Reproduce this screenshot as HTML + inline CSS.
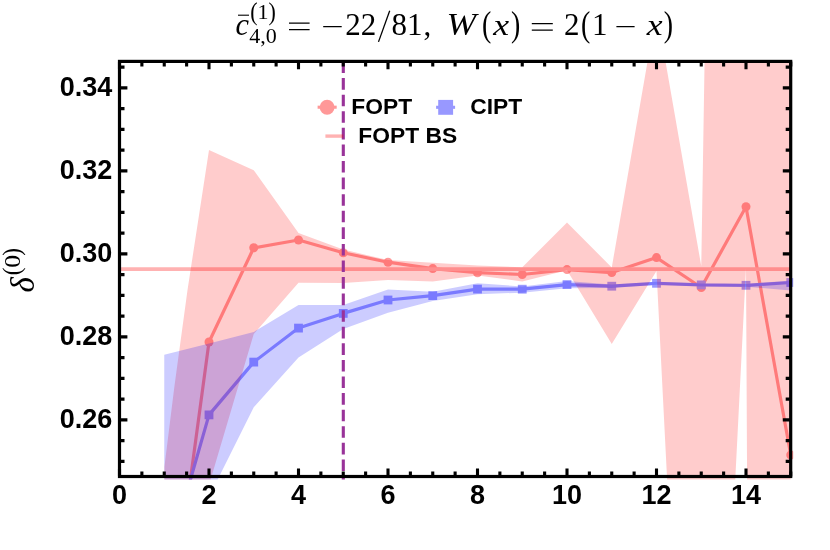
<!DOCTYPE html>
<html><head><meta charset="utf-8"><title>plot</title>
<style>html,body{margin:0;padding:0;background:#fff}svg{display:block;will-change:transform}text{font-family:"Liberation Sans",sans-serif}.s{font-family:"Liberation Serif",serif}</style></head><body>
<svg width="830" height="550" viewBox="0 0 830 550">
<rect width="830" height="550" fill="#fff"/>
<defs><clipPath id="cp"><rect x="119.5" y="60.0" width="671.2" height="419.6"/></clipPath>
<clipPath id="cl"><rect x="119.5" y="60.0" width="673.7" height="419.6"/></clipPath></defs>
<g clip-path="url(#cl)">
<g opacity="0.4">
<polyline points="164.25,673.00 209.00,342.00 253.75,247.80 298.50,240.00 343.25,252.70 388.00,262.20 432.75,268.60 477.50,272.70 522.25,274.50 567.00,269.60 611.75,272.60 656.50,257.60 701.25,287.50 746.00,206.80 790.75,455.00" fill="none" stroke="rgb(255,0,0)" stroke-width="3.2" stroke-linejoin="round"/>
<circle cx="164.25" cy="673.00" r="4.5" fill="rgb(255,0,0)"/>
<circle cx="209.00" cy="342.00" r="4.5" fill="rgb(255,0,0)"/>
<circle cx="253.75" cy="247.80" r="4.5" fill="rgb(255,0,0)"/>
<circle cx="298.50" cy="240.00" r="4.5" fill="rgb(255,0,0)"/>
<circle cx="343.25" cy="252.70" r="4.5" fill="rgb(255,0,0)"/>
<circle cx="388.00" cy="262.20" r="4.5" fill="rgb(255,0,0)"/>
<circle cx="432.75" cy="268.60" r="4.5" fill="rgb(255,0,0)"/>
<circle cx="477.50" cy="272.70" r="4.5" fill="rgb(255,0,0)"/>
<circle cx="522.25" cy="274.50" r="4.5" fill="rgb(255,0,0)"/>
<circle cx="567.00" cy="269.60" r="4.5" fill="rgb(255,0,0)"/>
<circle cx="611.75" cy="272.60" r="4.5" fill="rgb(255,0,0)"/>
<circle cx="656.50" cy="257.60" r="4.5" fill="rgb(255,0,0)"/>
<circle cx="701.25" cy="287.50" r="4.5" fill="rgb(255,0,0)"/>
<circle cx="746.00" cy="206.80" r="4.5" fill="rgb(255,0,0)"/>
<circle cx="790.75" cy="455.00" r="4.5" fill="rgb(255,0,0)"/>
</g>
<polyline points="164.25,571.00 209.00,414.90 253.75,362.10 298.50,328.10 343.25,313.40 388.00,300.00 432.75,295.60 477.50,289.10 522.25,289.20 567.00,284.60 611.75,286.20 656.50,283.30 701.25,284.90 746.00,285.30 790.75,282.50" fill="none" stroke="rgb(153,153,255)" stroke-width="3.2" stroke-linejoin="round"/>
<rect x="159.85" y="566.60" width="8.8" height="8.8" fill="rgb(153,153,255)"/>
<rect x="204.60" y="410.50" width="8.8" height="8.8" fill="rgb(153,153,255)"/>
<rect x="249.35" y="357.70" width="8.8" height="8.8" fill="rgb(153,153,255)"/>
<rect x="294.10" y="323.70" width="8.8" height="8.8" fill="rgb(153,153,255)"/>
<rect x="338.85" y="309.00" width="8.8" height="8.8" fill="rgb(153,153,255)"/>
<rect x="383.60" y="295.60" width="8.8" height="8.8" fill="rgb(153,153,255)"/>
<rect x="428.35" y="291.20" width="8.8" height="8.8" fill="rgb(153,153,255)"/>
<rect x="473.10" y="284.70" width="8.8" height="8.8" fill="rgb(153,153,255)"/>
<rect x="517.85" y="284.80" width="8.8" height="8.8" fill="rgb(153,153,255)"/>
<rect x="562.60" y="280.20" width="8.8" height="8.8" fill="rgb(153,153,255)"/>
<rect x="607.35" y="281.80" width="8.8" height="8.8" fill="rgb(153,153,255)"/>
<rect x="652.10" y="278.90" width="8.8" height="8.8" fill="rgb(153,153,255)"/>
<rect x="696.85" y="280.50" width="8.8" height="8.8" fill="rgb(153,153,255)"/>
<rect x="741.60" y="280.90" width="8.8" height="8.8" fill="rgb(153,153,255)"/>
<rect x="786.35" y="278.10" width="8.8" height="8.8" fill="rgb(153,153,255)"/>
</g>
<g clip-path="url(#cp)">
<line x1="119.5" x2="790.7" y1="269.05" y2="269.05" stroke="rgb(255,178,178)" stroke-width="3.7"/>
<polygon points="164.40,467.00 174.20,388.00 187.50,290.00 209.00,150.00 253.75,170.20 298.50,233.00 343.25,249.60 388.00,260.00 432.75,262.70 477.50,265.50 522.25,267.30 567.00,222.50 611.75,267.50 656.50,10.00 701.25,266.00 746.00,-2500.00 790.75,-2500.00 790.75,9000.00 746.00,268.00 701.25,1150.00 656.50,271.00 611.75,344.00 567.00,270.20 522.25,281.50 477.50,275.50 432.75,281.50 388.00,280.00 343.25,283.00 298.50,282.70 253.75,334.00 209.00,485.00 164.25,800.00" fill="rgb(255,0,0)" fill-opacity="0.2"/>
<polygon points="164.25,354.80 209.00,343.50 253.75,332.00 298.50,305.10 343.25,305.00 388.00,289.50 432.75,291.80 477.50,283.30 522.25,286.40 567.00,280.90 611.75,284.50 656.50,281.80 701.25,283.40 746.00,284.00 790.75,280.60 790.75,290.50 746.00,286.80 701.25,286.40 656.50,284.80 611.75,288.00 567.00,288.20 522.25,292.70 477.50,294.20 432.75,300.90 388.00,312.70 343.25,329.10 298.50,357.50 253.75,407.30 209.00,497.00 164.25,600.00" fill="rgb(0,0,255)" fill-opacity="0.2"/>
</g>
<line x1="343.3" x2="343.3" y1="61.5" y2="479.5" stroke="rgb(153,51,153)" stroke-width="3.1" stroke-dasharray="11.6 4.98"/>
<rect x="119.5" y="61.4" width="671.2" height="415.1" fill="none" stroke="#000" stroke-width="3.2"/>
<path d="M119.50 476.4v-7.9M119.50 61.4v7.9M141.88 476.4v-5.0M141.88 61.4v5.0M164.25 476.4v-5.0M164.25 61.4v5.0M186.62 476.4v-5.0M186.62 61.4v5.0M209.00 476.4v-7.9M209.00 61.4v7.9M231.38 476.4v-5.0M231.38 61.4v5.0M253.75 476.4v-5.0M253.75 61.4v5.0M276.12 476.4v-5.0M276.12 61.4v5.0M298.50 476.4v-7.9M298.50 61.4v7.9M320.88 476.4v-5.0M320.88 61.4v5.0M343.25 476.4v-5.0M343.25 61.4v5.0M365.62 476.4v-5.0M365.62 61.4v5.0M388.00 476.4v-7.9M388.00 61.4v7.9M410.38 476.4v-5.0M410.38 61.4v5.0M432.75 476.4v-5.0M432.75 61.4v5.0M455.12 476.4v-5.0M455.12 61.4v5.0M477.50 476.4v-7.9M477.50 61.4v7.9M499.88 476.4v-5.0M499.88 61.4v5.0M522.25 476.4v-5.0M522.25 61.4v5.0M544.62 476.4v-5.0M544.62 61.4v5.0M567.00 476.4v-7.9M567.00 61.4v7.9M589.38 476.4v-5.0M589.38 61.4v5.0M611.75 476.4v-5.0M611.75 61.4v5.0M634.12 476.4v-5.0M634.12 61.4v5.0M656.50 476.4v-7.9M656.50 61.4v7.9M678.88 476.4v-5.0M678.88 61.4v5.0M701.25 476.4v-5.0M701.25 61.4v5.0M723.62 476.4v-5.0M723.62 61.4v5.0M746.00 476.4v-7.9M746.00 61.4v7.9M768.38 476.4v-5.0M768.38 61.4v5.0M790.75 476.4v-5.0M790.75 61.4v5.0M119.5 461.40h5.0M790.7 461.40h-5.0M119.5 440.65h5.0M790.7 440.65h-5.0M119.5 419.90h7.9M790.7 419.90h-7.9M119.5 399.15h5.0M790.7 399.15h-5.0M119.5 378.40h5.0M790.7 378.40h-5.0M119.5 357.65h5.0M790.7 357.65h-5.0M119.5 336.90h7.9M790.7 336.90h-7.9M119.5 316.15h5.0M790.7 316.15h-5.0M119.5 295.40h5.0M790.7 295.40h-5.0M119.5 274.65h5.0M790.7 274.65h-5.0M119.5 253.90h7.9M790.7 253.90h-7.9M119.5 233.15h5.0M790.7 233.15h-5.0M119.5 212.40h5.0M790.7 212.40h-5.0M119.5 191.65h5.0M790.7 191.65h-5.0M119.5 170.90h7.9M790.7 170.90h-7.9M119.5 150.15h5.0M790.7 150.15h-5.0M119.5 129.40h5.0M790.7 129.40h-5.0M119.5 108.65h5.0M790.7 108.65h-5.0M119.5 87.90h7.9M790.7 87.90h-7.9M119.5 67.15h5.0M790.7 67.15h-5.0" stroke="#000" stroke-width="3.1" fill="none"/>
<text x="119.50" y="503.6" font-size="27" font-weight="bold" text-anchor="middle">0</text>
<text x="209.00" y="503.6" font-size="27" font-weight="bold" text-anchor="middle">2</text>
<text x="298.50" y="503.6" font-size="27" font-weight="bold" text-anchor="middle">4</text>
<text x="388.00" y="503.6" font-size="27" font-weight="bold" text-anchor="middle">6</text>
<text x="477.50" y="503.6" font-size="27" font-weight="bold" text-anchor="middle">8</text>
<text x="567.00" y="503.6" font-size="27" font-weight="bold" text-anchor="middle">10</text>
<text x="656.50" y="503.6" font-size="27" font-weight="bold" text-anchor="middle">12</text>
<text x="746.00" y="503.6" font-size="27" font-weight="bold" text-anchor="middle">14</text>
<text x="112.3" y="427.80" font-size="27" font-weight="bold" text-anchor="end">0.26</text>
<text x="112.3" y="344.80" font-size="27" font-weight="bold" text-anchor="end">0.28</text>
<text x="112.3" y="261.80" font-size="27" font-weight="bold" text-anchor="end">0.30</text>
<text x="112.3" y="178.80" font-size="27" font-weight="bold" text-anchor="end">0.32</text>
<text x="112.3" y="95.80" font-size="27" font-weight="bold" text-anchor="end">0.34</text>
<g opacity="0.4"><line x1="317.6" x2="336.7" y1="107.2" y2="107.2" stroke="rgb(255,0,0)" stroke-width="3.1"/><circle cx="327.1" cy="107.2" r="7.45" fill="rgb(255,0,0)"/></g>
<text x="351.3" y="113.8" font-size="22.8" font-weight="bold">FOPT</text>
<g opacity="0.4"><line x1="436.1" x2="455.1" y1="107.3" y2="107.3" stroke="rgb(0,0,255)" stroke-width="3.1"/><rect x="438.2" y="99.9" width="14.9" height="14.9" fill="rgb(0,0,255)"/></g>
<text x="470.2" y="113.8" font-size="22.8" font-weight="bold">CIPT</text>
<line x1="325.4" x2="343.4" y1="136.1" y2="136.1" stroke="rgb(255,0,0)" stroke-opacity="0.3" stroke-width="3.4"/>
<text x="358.3" y="142.8" font-size="22.8" font-weight="bold">FOPT BS</text>
<text class="s" transform="translate(235.60,34.70) scale(0.980,1.000)" font-size="31.0" font-style="italic">c</text>
<line x1="238" x2="249" y1="15.2" y2="15.2" stroke="#000" stroke-width="1.1"/>
<text class="s" transform="translate(250.30,19.70) scale(1.000,1.120)" font-size="22.0">(</text>
<text class="s" x="257.6" y="19.2" font-size="22.0">1</text>
<text class="s" transform="translate(268.60,19.70) scale(1.000,1.120)" font-size="22.0">)</text>
<text class="s" x="249.2" y="42.6" font-size="22.0">4,0</text>
<path d="M289 23.2h20.6M289 29.7h20.6M323.2 26.7h18.5M531.8 23.6h21M531.8 30.1h21M616.4 26.7h18.2" stroke="#000" stroke-width="1.3" fill="none"/>
<text class="s" x="345.2" y="34.7" font-size="31.0">22</text>
<line x1="378.5" y1="41.9" x2="389.7" y2="10.8" stroke="#000" stroke-width="1.3"/>
<text class="s" x="391.5" y="34.7" font-size="31.0">81</text>
<text class="s" x="423.5" y="34.7" font-size="31.0">,</text>
<text class="s" transform="translate(446.60,34.70) scale(1.150,1.000)" font-size="31.0" font-style="italic">W</text>
<text class="s" transform="translate(481.90,36.00) scale(0.900,1.130)" font-size="31.0">(</text>
<text class="s" transform="translate(493.20,34.70) scale(1.150,0.970)" font-size="31.0" font-style="italic">x</text>
<text class="s" transform="translate(510.90,36.00) scale(0.900,1.130)" font-size="31.0">)</text>
<text class="s" x="564.0" y="34.7" font-size="31.0">2</text>
<text class="s" transform="translate(581.00,36.00) scale(0.900,1.130)" font-size="31.0">(</text>
<text class="s" x="592.0" y="34.7" font-size="31.0">1</text>
<text class="s" transform="translate(646.70,34.70) scale(1.150,0.970)" font-size="31.0" font-style="italic">x</text>
<text class="s" transform="translate(663.70,36.00) scale(0.900,1.130)" font-size="31.0">)</text>
<g transform="translate(34.1,292.5) rotate(-90)">
<text class="s" x="0" y="0" font-size="33" font-style="italic">δ</text>
<text class="s" transform="translate(17.3,-14.2) scale(1,1.08)" font-size="23">(</text>
<text class="s" transform="translate(24.8,-14.5) scale(1.12,1.04)" font-size="23">0</text>
<text class="s" transform="translate(36.8,-14.2) scale(1,1.08)" font-size="23">)</text>
</g>
</svg></body></html>
